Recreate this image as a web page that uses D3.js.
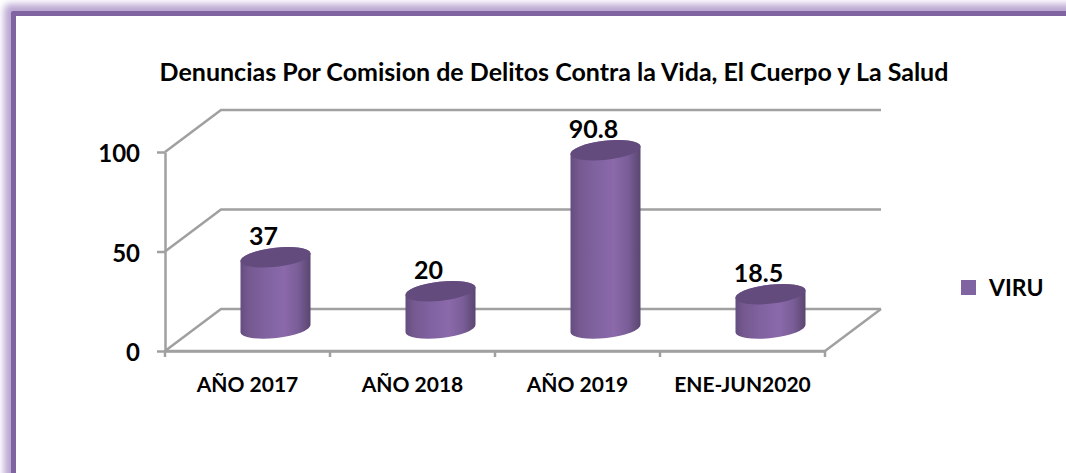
<!DOCTYPE html>
<html>
<head>
<meta charset="utf-8">
<script src="https://cdn.jsdelivr.net/npm/d3@7"></script>
<style>
html,body{margin:0;padding:0;background:#fff}
svg{display:block}
text{font-family:Lato,Carlito,"Open Sans",sans-serif;font-weight:700;fill:#000}
</style>
</head>
<body>
<script>
const categories = ['AÑO 2017','AÑO 2018','AÑO 2019','ENE-JUN2020']
const values = [37,20,90.8,18.5]
const valueLabels = ['37','20','90.8','18.5']
const yTicks = [0,50,100]
const seriesName = 'VIRU'
const title = 'Denuncias Por Comision de Delitos Contra la Vida, El Cuerpo y La Salud'

const W = 1066, H = 473
const svg = d3.select('body').append('svg').attr('width',W).attr('height',H)
const defs = svg.append('defs')

// front plane of the 3d box, the back wall is the same thing shifted by depth
const x = d3.scaleBand().domain(categories).range([165,825])
const y = d3.scaleLinear().domain([0,100]).range([351,152])
const depth = {x:56,y:-42}
const gridColor = '#a0a0a0'

function gradient(id,stops){
  const g = defs.append('linearGradient').attr('id',id)
    .attr('x1',0).attr('y1',0).attr('x2',1).attr('y2',0)
  stops.forEach(s => g.append('stop').attr('offset',s[0]).attr('stop-color',s[1]))
}
gradient('body',[[0,'#654d80'],[.12,'#75598f'],[.35,'#7f62a0'],[.62,'#8b69aa'],[.82,'#7a5e98'],[1,'#5a4670']])
defs.append('filter').attr('id','glow').attr('x','-5%').attr('y','-10%').attr('width','110%').attr('height','120%')
  .append('feGaussianBlur').attr('stdDeviation',3.5)

// frame, only top and left are inside the picture
const $frame = svg.append('g').classed('frame',true)
$frame.append('rect').attr('x',4).attr('y',4).attr('width',W+60).attr('height',H+60).attr('rx',6)
  .attr('fill','#bba7d3').attr('filter','url(#glow)')
$frame.append('rect').attr('x',11).attr('y',11).attr('width',W+60).attr('height',H+60).attr('rx',2).attr('fill','#8064a2')
$frame.append('rect').attr('x',16).attr('y',16).attr('width',W+60).attr('height',H+60).attr('fill','#fff')

svg.append('text').attr('x',554).attr('y',81).attr('text-anchor','middle')
  .attr('font-size',25).text(title)

// walls and floor
const $grid = svg.append('g').classed('grid',true).attr('fill','none')
  .attr('stroke',gridColor).attr('stroke-width',2.5)
yTicks.forEach(t => {
  $grid.append('path').attr('d',d3.line()([
    [x.range()[0],y(t)],
    [x.range()[0]+depth.x,y(t)+depth.y],
    [x.range()[1]+depth.x,y(t)+depth.y]
  ]))
})
$grid.append('path').attr('d',d3.line()([
  [x.range()[0],y(0)],[x.range()[1],y(0)],[x.range()[1]+depth.x,y(0)+depth.y]
]))

// axes
const yAxis = svg.append('g').attr('transform',`translate(${x.range()[0]},0)`)
  .call(d3.axisLeft(y).tickValues(yTicks).tickSize(8).tickSizeOuter(0).tickPadding(17))
const xAxis = svg.append('g').attr('transform',`translate(0,${y(0)})`)
  .call(d3.axisBottom(x).tickValues(categories).tickSize(0).tickPadding(26))
xAxis.selectAll('.tick')
  .data(categories)
  .append('line').attr('x1',x.bandwidth()/2).attr('x2',x.bandwidth()/2).attr('y1',0).attr('y2',6)
xAxis.append('line').attr('x1',x.range()[0]).attr('x2',x.range()[0]).attr('y1',0).attr('y2',6)
yAxis.selectAll('line,path').attr('stroke',gridColor).attr('stroke-width',2.5)
xAxis.selectAll('line,path').attr('stroke',gridColor).attr('stroke-width',2.5)
yAxis.selectAll('text').attr('font-size',24).attr('font-family',null).attr('fill','#000').attr('y',2)
xAxis.selectAll('text').attr('font-size',21).attr('font-family',null).attr('fill','#000')

// cylinders
const rx = 35, ry = 9.5, tilt = 6.5
const dy = rx*Math.tan(tilt*Math.PI/180)
const cx = d => x(d.c)+x.bandwidth()/2+depth.x/2
const baseY = y(0)+depth.y/2-1.5
const topY = d => baseY-(y(0)-y(d.v))+2.5
const data = categories.map((c,i) => ({c,v:values[i],label:valueLabels[i]}))

const $bars = svg.append('g').classed('bars',true)
const bar = $bars.selectAll('g').data(data).enter().append('g')
bar.append('path').attr('fill','url(#body)')
  .attr('d',d => `M${cx(d)-rx},${topY(d)+dy}L${cx(d)-rx},${baseY+dy}`
    +`A${rx},${ry} ${-tilt} 0 0 ${cx(d)+rx},${baseY-dy}L${cx(d)+rx},${topY(d)-dy}`
    +`A${rx},${ry} ${-tilt} 0 0 ${cx(d)-rx},${topY(d)+dy}Z`)
bar.append('ellipse').attr('fill','#634b7d')
  .attr('rx',rx+.3).attr('ry',ry)
  .attr('transform',d => `translate(${cx(d)},${topY(d)}) rotate(${-tilt})`)
bar.append('text').attr('text-anchor','middle').attr('font-size',25)
  .attr('x',d => cx(d)-12).attr('y',d => topY(d)-12)
  .text(d => d.label)

// legend
svg.append('rect').attr('x',961).attr('y',280).attr('width',15).attr('height',15).attr('fill','#8064a2')
svg.append('text').attr('x',989).attr('y',296).attr('font-size',23).text(seriesName)
</script>
</body>
</html>
